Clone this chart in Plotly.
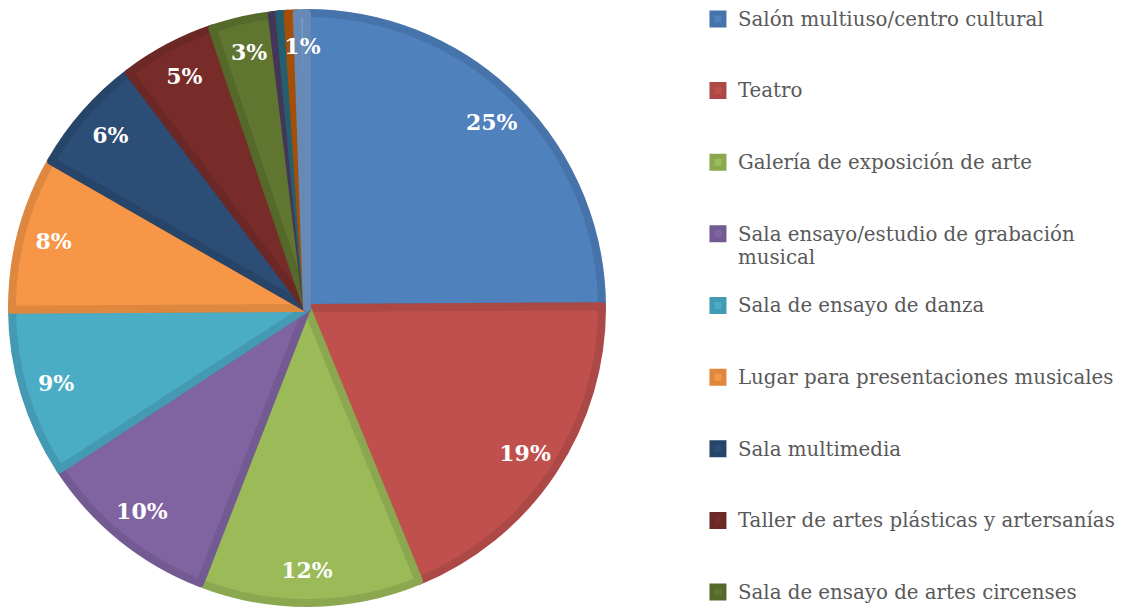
import plotly.graph_objects as go

categories = [
    "Salón multiuso/centro cultural",
    "Teatro",
    "Galería de exposición de arte",
    "Sala ensayo/estudio de grabación<br>musical",
    "Sala de ensayo de danza",
    "Lugar para presentaciones musicales",
    "Sala multimedia",
    "Taller de artes plásticas y artersanías",
    "Sala de ensayo de artes circenses",
    "Sala de cine",
    "Biblioteca",
    "Sala de lectura",
    "Otro",
]
values = [24.9, 18.9, 12.1, 9.9, 9.1, 8.4, 6.4, 5.1, 3.3, 0.4, 0.45, 0.5, 0.55]
show_label = [True] * 9 + [False, False, False, True]

fill_colors = ["#4F81BD", "#C0504D", "#9BBB59", "#8064A2", "#4BACC6", "#F79646",
               "#2C4D75", "#772C2A", "#5F7530", "#4D3B62", "#276A7C", "#B65708", "#729ACA"]
band_colors = ["#4673A9", "#AC4845", "#8BA850", "#735A92", "#449AB2", "#DE873F",
               "#274569", "#6B2826", "#55692B", "#453558", "#235F6F", "#A44E07", "#668AB5"]

# legend labels: each line enlarged, padded to 3 lines so every entry gets the same height
legend_labels = []
for c in categories:
    lines = c.split("<br>")
    styled = ["<span style='font-size:19.8px'>%s</span>" % ln for ln in lines]
    legend_labels.append("<br>".join(styled) + "<br> " * (3 - len(lines)))

W, H = 1125, 608
cx, cy, R = 299, 300, 299      # pie centre / outer radius in figure pixels
line_w = 8
r_fill = R - line_w / 2
r_text = 266                    # radius of transparent ring that carries the labels
text_hole = 0.97


def dom(r):
    return dict(x=[(cx - r) / W, (cx + r) / W], y=[(H - cy - r) / H, (H - cy + r) / H])


fig = go.Figure()
fig.add_trace(go.Pie(
    labels=legend_labels,
    values=values,
    sort=False,
    direction="clockwise",
    rotation=0,
    marker=dict(colors=fill_colors, line=dict(color=band_colors, width=line_w)),
    textinfo="none",
    hoverinfo="label+percent",
    domain=dom(r_fill),
))
# label ring (transparent) so percentages sit near the rim like the original
fig.add_trace(go.Pie(
    labels=legend_labels,
    values=values,
    sort=False,
    direction="clockwise",
    rotation=0,
    hole=text_hole,
    marker=dict(colors=["rgba(0,0,0,0)"] * len(values), line=dict(width=0)),
    texttemplate=["<b>%{percent:.0%}</b>" if s else "" for s in show_label],
    textposition="inside",
    insidetextorientation="horizontal",
    textfont=dict(family="DejaVu Serif", size=22, color="white"),
    hoverinfo="skip",
    showlegend=False,
    domain=dom(r_text),
))

fig.update_layout(
    width=W, height=H,
    margin=dict(l=0, r=0, t=0, b=0, autoexpand=False),
    paper_bgcolor="white",
    uniformtext=dict(minsize=22, mode="show"),
    legend=dict(
        x=0.6133, xanchor="left", y=1.0115, yanchor="top",
        valign="top",
        font=dict(family="DejaVu Serif", size=17.6, color="#595959"),
        bgcolor="rgba(0,0,0,0)",
        maxheight=3000,
        tracegroupgap=0,
    ),
    showlegend=True,
)

fig.write_html("out.html")
